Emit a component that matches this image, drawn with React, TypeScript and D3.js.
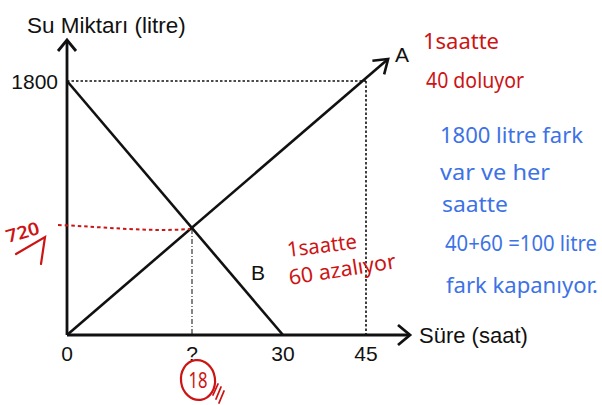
import React from "react";
import * as d3 from "d3";

// ---- data ----
const xTickValues = [0, 18, 30, 45];
const xTickLabels = ["0", "?", "30", "45"];
const yTickValues = [1800];
const yTickLabels = ["1800"];
const seriesAHours = [0, 49];
const seriesAValues = [0, 1960];
const seriesBHours = [0, 30];
const seriesBValues = [1800, 0];
const meetHour = 18;
const meetValue = 720;
const fullHour = 45;
const fullValue = 1800;
const redNotesTop = ["1saatte", "40 doluyor"];
const redNotesMid = ["1saatte", "60 azalıyor"];
const blueNotes = ["1800 litre fark", "var ve her", "saatte", "40+60 =100 litre", "fark kapanıyor."];

const W = 602;
const H = 405;
const RED = "#cc1414";
const BLUE = "#3d72e6";
const FONT = "'Liberation Sans', Arial, Helvetica, sans-serif";
const HAND = "'Noto Sans', 'DejaVu Sans', sans-serif";

// piecewise (diagram not to scale)
const x = d3.scaleLinear().domain([0, 18, 30, 45]).range([67, 192, 283, 366]);
const y = d3.scaleLinear().domain([0, 720, 1800]).range([335, 229, 81]);

function chevron(tipX: number, tipY: number, angle: number, len = 12, half = 9) {
  const bx = tipX - len * Math.cos(angle);
  const by = tipY - len * Math.sin(angle);
  const px = -Math.sin(angle) * half;
  const py = Math.cos(angle) * half;
  return `M${bx + px},${by + py}L${tipX},${tipY}L${bx - px},${by - py}`;
}

export default function App() {
  const line = d3
    .line<[number, number]>()
    .x((d) => x(d[0]))
    .y((d) => y(d[1]));
  const aPts: [number, number][] = seriesAHours.map((h, i) => [h, seriesAValues[i]]);
  const bPts: [number, number][] = seriesBHours.map((h, i) => [h, seriesBValues[i]]);
  const x0 = x(0);
  const y0 = y(0);
  const xEnd = 410;
  const yEnd = 40;
  const aEnd = aPts[aPts.length - 1];
  const aAngle = Math.atan2(y(aEnd[1]) - y(0), x(aEnd[0]) - x(0));

  return (
    <svg
      width={W}
      height={H}
      viewBox={`0 0 ${W} ${H}`}
      style={{ position: "absolute", left: 0, top: 0, background: "#fff" }}
    >
      <rect width={W} height={H} fill="#fff" />
      {/* dotted guides */}
      <line x1={x0} x2={x(fullHour)} y1={y(fullValue)} y2={y(fullValue)} stroke="#111" strokeWidth={1.6} strokeDasharray="2.5,2" />
      <line x1={x(fullHour)} x2={x(fullHour)} y1={y(fullValue)} y2={y0} stroke="#111" strokeWidth={1.6} strokeDasharray="2.5,2" />
      <line x1={x(meetHour)} x2={x(meetHour)} y1={y(meetValue)} y2={y0} stroke="#222" strokeWidth={1.1} strokeDasharray="5,2,1,2" />

      {/* series lines */}
      <path d={line(bPts) || ""} fill="none" stroke="#111" strokeWidth={2.6} />
      <path d={line(aPts) || ""} fill="none" stroke="#111" strokeWidth={2.6} />
      <path d={chevron(x(aEnd[0]), y(aEnd[1]), aAngle, 13, 9)} fill="none" stroke="#111" strokeWidth={2.6} />

      {/* axes */}
      <line x1={x0} x2={xEnd} y1={y0} y2={y0} stroke="#111" strokeWidth={2.8} />
      <line x1={x0} x2={x0} y1={y0} y2={yEnd} stroke="#111" strokeWidth={2.8} />
      <path d={chevron(xEnd, y0, 0, 12, 10)} fill="none" stroke="#111" strokeWidth={2.8} />
      <path d={chevron(x0, yEnd, -Math.PI / 2, 11, 9)} fill="none" stroke="#111" strokeWidth={2.8} />

      {/* tick labels */}
      {xTickValues.map((v, i) => (
        <text key={i} x={x(v)} y={361} textAnchor="middle" fontFamily={FONT} fontSize={21} fill="#111">
          {xTickLabels[i]}
        </text>
      ))}
      {yTickValues.map((v, i) => (
        <text key={i} x={58} y={y(v)} dy="0.36em" textAnchor="end" fontFamily={FONT} fontSize={21} fill="#111">
          {yTickLabels[i]}
        </text>
      ))}

      {/* axis titles and series labels */}
      <text x={27} y={33} fontFamily={FONT} fontSize={22.5} fill="#111">Su Miktarı (litre)</text>
      <text x={419} y={343} fontFamily={FONT} fontSize={22} fill="#111">Süre (saat)</text>
      <text x={395} y={62} fontFamily={FONT} fontSize={21} fill="#111">A</text>
      <text x={251} y={280} fontFamily={FONT} fontSize={21} fill="#111">B</text>

      {/* handwritten red annotations */}
      <path
        d={`M${x0 - 9},${y(meetValue) - 4} C${x0 + 40},${y(meetValue) - 2} ${x0 + 80},${y(meetValue) + 3} ${x(meetHour) - 2},${y(meetValue)}`}
        fill="none"
        stroke={RED}
        strokeWidth={2}
        strokeDasharray="3.5,3"
      />
      <text x={8} y={243} fontFamily={HAND} fontSize={18} fill={RED} fontWeight={600} transform="rotate(-16 8 243)" textLength={34} lengthAdjust="spacingAndGlyphs">
        720
      </text>
      <path d="M16,254 L45,237 L41,264" fill="none" stroke={RED} strokeWidth={2.2} strokeLinecap="round" />

      <ellipse cx={198} cy={380} rx={17} ry={20} fill="none" stroke={RED} strokeWidth={2.2} transform="rotate(-8 198 380)" />
      <text x={198} y={388} textAnchor="middle" fontFamily={HAND} fontSize={21} fill={RED} textLength={19} lengthAdjust="spacingAndGlyphs">
        18
      </text>
      <path d="M213,395 L218,384 M216,399 L221,387 M219,403 L224,391" fill="none" stroke={RED} strokeWidth={1.8} strokeLinecap="round" />

      <text x={423} y={49} fontFamily={HAND} fontSize={22} fill={RED} textLength={76} lengthAdjust="spacingAndGlyphs">
        {redNotesTop[0]}
      </text>
      <text x={426} y={88} fontFamily={HAND} fontSize={22} fill={RED} textLength={98} lengthAdjust="spacingAndGlyphs">
        {redNotesTop[1]}
      </text>

      <text x={288} y={257} fontFamily={HAND} fontSize={21} fill={RED} textLength={70} lengthAdjust="spacingAndGlyphs" transform="rotate(-7 288 257)">
        {redNotesMid[0]}
      </text>
      <text x={290} y={285} fontFamily={HAND} fontSize={21} fill={RED} textLength={108} lengthAdjust="spacingAndGlyphs" transform="rotate(-9 290 285)">
        {redNotesMid[1]}
      </text>

      {/* handwritten blue annotations */}
      {blueNotes.map((t, i) => {
        const ys = [143, 180, 212, 251, 293];
        const xs = [440, 440, 442, 445, 446];
        const lens = [143, 110, 66, 152, 152];
        return (
          <text key={i} x={xs[i]} y={ys[i]} fontFamily={HAND} fontSize={21} fill={BLUE} textLength={lens[i]} lengthAdjust="spacingAndGlyphs">
            {t}
          </text>
        );
      })}
    </svg>
  );
}
